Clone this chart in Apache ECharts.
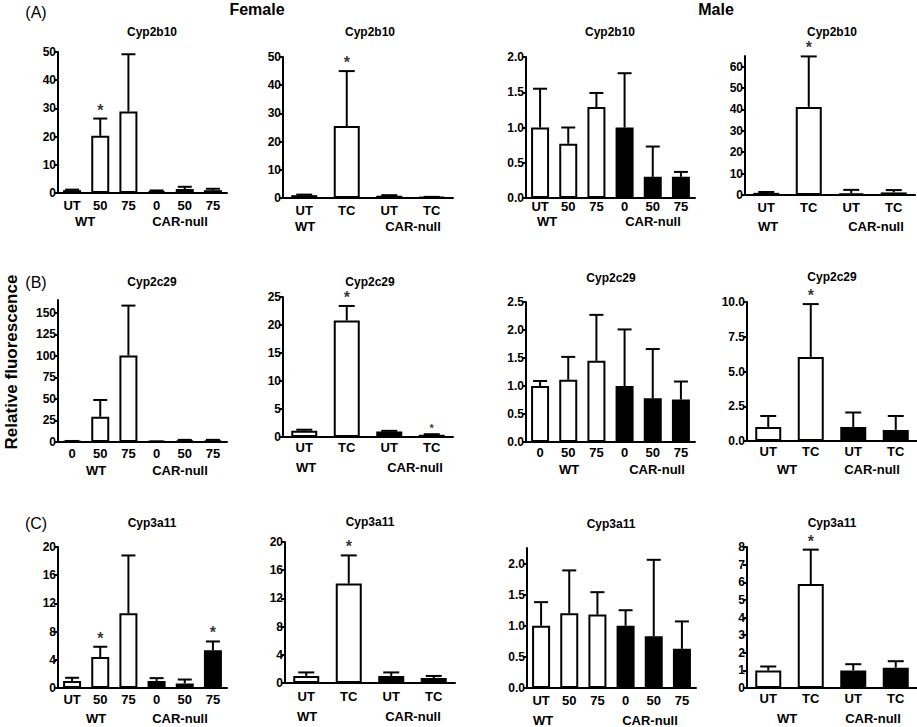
<!DOCTYPE html>
<html><head><meta charset="utf-8">
<script src="https://cdn.jsdelivr.net/npm/echarts@6/dist/echarts.min.js"></script>
<style>html,body{margin:0;padding:0;background:#fff}#c{width:917px;height:727px}</style>
</head><body><div id="c"></div>
<script>
// ---------- DATA ----------
const catsDoseUT = ['UT','50','75','0','50','75'];
const catsDose0  = ['0','50','75','0','50','75'];
const catsTC     = ['UT','TC','UT','TC'];
const genotypeLabels = ['WT','CAR-null'];
const sexLabels = ['Female','Male'];
const panelLetters = ['(A)','(B)','(C)'];
const geneNames = ['Cyp2b10','Cyp2c29','Cyp3a11'];
const yTitle = 'Relative fluorescence';

// Cyp2b10
const a1Mean = [1.0, 20.3, 28.9, 0.7, 1.4, 1.0];
const a1ErrTop = [1.2, 26.4, 49.2, 0.9, 2.2, 1.5];
const a1Star = [1];
const a1Ticks = [0,10,20,30,40,50];

const a2Mean = [1.0, 25.5, 0.8, 0.3];
const a2ErrTop = [1.2, 45.0, 1.0, 0.4];
const a2Star = [1];
const a2Ticks = [0,10,20,30,40,50];

const a3Mean = [1.0, 0.77, 1.29, 1.0, 0.3, 0.3];
const a3ErrTop = [1.55, 1.0, 1.49, 1.77, 0.73, 0.37];
const a3Star = [];
const a3Ticks = [0,0.5,1.0,1.5,2.0];

const a4Mean = [1.0, 41.2, 0.8, 1.2];
const a4ErrTop = [1.4, 64.8, 2.4, 2.3];
const a4Star = [1];
const a4Ticks = [0,10,20,30,40,50,60];

// Cyp2c29
const b1Mean = [1.0, 29.4, 100.5, 0.5, 1.5, 1.5];
const b1ErrTop = [1.2, 48.8, 158.5, 0.7, 2.5, 2.5];
const b1Star = [];
const b1Ticks = [0,25,50,75,100,125,150];

const b2Mean = [1.1, 20.8, 1.0, 0.4];
const b2ErrTop = [1.3, 23.4, 1.1, 0.5];
const b2Star = [1, 3];
const b2Ticks = [0,5,10,15,20,25];

const b3Mean = [1.0, 1.11, 1.45, 1.0, 0.78, 0.76];
const b3ErrTop = [1.09, 1.52, 2.27, 2.01, 1.66, 1.08];
const b3Star = [];
const b3Ticks = [0,0.5,1.0,1.5,2.0,2.5];

const b4Mean = [1.0, 6.05, 1.0, 0.8];
const b4ErrTop = [1.8, 9.85, 2.05, 1.8];
const b4Star = [1];
const b4Ticks = [0,2.5,5.0,7.5,10.0];

// Cyp3a11
const c1Mean = [1.0, 4.4, 10.6, 1.0, 0.65, 5.35];
const c1ErrTop = [1.45, 5.85, 18.8, 1.4, 1.2, 6.6];
const c1Star = [1, 5];
const c1Ticks = [0,4,8,12,16,20];

const c2Mean = [1.0, 14.1, 1.0, 0.7];
const c2ErrTop = [1.5, 18.1, 1.5, 1.0];
const c2Star = [1];
const c2Ticks = [0,4,8,12,16,20];

const c3Mean = [1.0, 1.2, 1.18, 1.0, 0.83, 0.63];
const c3ErrTop = [1.38, 1.89, 1.54, 1.25, 2.06, 1.07];
const c3Star = [];
const c3Ticks = [0,0.5,1.0,1.5,2.0];

const c4Mean = [1.0, 5.9, 1.0, 1.15];
const c4ErrTop = [1.22, 7.85, 1.35, 1.52];
const c4Star = [1];
const c4Ticks = [0,1,2,3,4,5,6,7,8];

// ---------- PANELS ----------
const panels = [
  {title:geneNames[0], cats:catsDoseUT, mean:a1Mean, err:a1ErrTop, stars:a1Star, ticks:a1Ticks, max:50, dec:0},
  {title:geneNames[0], cats:catsTC,     mean:a2Mean, err:a2ErrTop, stars:a2Star, ticks:a2Ticks, max:50, dec:0},
  {title:geneNames[0], cats:catsDoseUT, mean:a3Mean, err:a3ErrTop, stars:a3Star, ticks:a3Ticks, max:2, dec:1},
  {title:geneNames[0], cats:catsTC,     mean:a4Mean, err:a4ErrTop, stars:a4Star, ticks:a4Ticks, max:65, dec:0},
  {title:geneNames[1], cats:catsDose0,  mean:b1Mean, err:b1ErrTop, stars:b1Star, ticks:b1Ticks, max:165, dec:0},
  {title:geneNames[1], cats:catsTC,     mean:b2Mean, err:b2ErrTop, stars:b2Star, ticks:b2Ticks, max:25, dec:0},
  {title:geneNames[1], cats:catsDose0,  mean:b3Mean, err:b3ErrTop, stars:b3Star, ticks:b3Ticks, max:2.5, dec:1},
  {title:geneNames[1], cats:catsTC,     mean:b4Mean, err:b4ErrTop, stars:b4Star, ticks:b4Ticks, max:10, dec:1},
  {title:geneNames[2], cats:catsDoseUT, mean:c1Mean, err:c1ErrTop, stars:c1Star, ticks:c1Ticks, max:20, dec:0},
  {title:geneNames[2], cats:catsTC,     mean:c2Mean, err:c2ErrTop, stars:c2Star, ticks:c2Ticks, max:20, dec:0},
  {title:geneNames[2], cats:catsDoseUT, mean:c3Mean, err:c3ErrTop, stars:c3Star, ticks:c3Ticks, max:2.25, dec:1},
  {title:geneNames[2], cats:catsTC,     mean:c4Mean, err:c4ErrTop, stars:c4Star, ticks:c4Ticks, max:8, dec:0}
];

// ---------- LAYOUT (pixels) ----------
const layout = [
  {left:58,  top:52,  zero:193, title:[152,32],  wt:[85,221],  car:[180,221], lm:6},
  {left:283, top:57,  zero:198, title:[370,32],  wt:[305,226], car:[413,226], lm:6},
  {left:526, top:57,  zero:198, title:[610,32],  wt:[547,221], car:[653,221], lm:2},
  {left:745, top:56,  zero:195, title:[832,32],  wt:[768,226], car:[876,226], lm:6},
  {left:58,  top:300, zero:442, title:[152,282], wt:[96,470],  car:[180,470], lm:5},
  {left:283, top:297, zero:437, title:[370,282], wt:[306,467], car:[415,467], lm:4},
  {left:526, top:302, zero:442, title:[611,278], wt:[569,469], car:[657,469], lm:4},
  {left:747, top:302, zero:441, title:[832,277], wt:[787,469], car:[872,469], lm:4},
  {left:58,  top:547, zero:688, title:[152,523], wt:[96,718],  car:[180,718], lm:5},
  {left:285, top:542, zero:683, title:[370,522], wt:[307,716], car:[413,716], lm:7},
  {left:527, top:548, zero:688, title:[611,524], wt:[543,720], car:[650,720], lm:6},
  {left:747, top:547, zero:688, title:[832,523], wt:[787,718], car:[873,718], lm:4}
];
const smallStar = {5:[3]};

const FF = 'Liberation Sans, Arial, Helvetica, sans-serif';
const grids=[], xAxes=[], yAxes=[], series=[], graphics=[];

function makeErr(half){
  return function(params, api){
    const x = api.value(0), lo = api.value(1), hi = api.value(2);
    const p0 = api.coord([x, lo]), p1 = api.coord([x, hi]);
    return {type:'group', children:[
      {type:'line', shape:{x1:p0[0], y1:p0[1], x2:p1[0], y2:p1[1]}, style:{stroke:'#000', lineWidth:2}},
      {type:'line', shape:{x1:p1[0]-half, y1:p1[1], x2:p1[0]+half, y2:p1[1]}, style:{stroke:'#000', lineWidth:2}}
    ]};
  };
}

panels.forEach((p,i)=>{
  const L = layout[i];
  const n = p.cats.length;
  const w = n===6 ? 169 : 170;
  grids.push({left:L.left, top:L.top, width:w, height:L.zero-L.top});
  xAxes.push({type:'category', gridIndex:i, data:p.cats,
    axisLine:{lineStyle:{color:'#000', width:2}},
    axisTick:{alignWithLabel:true, length:4, lineStyle:{color:'#000', width:2}},
    axisLabel:{color:'#000', fontWeight:'bold', fontSize:13, margin:L.lm, fontFamily:FF, interval:0}});
  yAxes.push({type:'value', gridIndex:i, min:0, max:p.max, interval:p.ticks[1]-p.ticks[0],
    splitLine:{show:false},
    axisLine:{show:true, lineStyle:{color:'#000', width:2}},
    axisTick:{show:true, length:4, lineStyle:{color:'#000', width:2}, customValues:p.ticks},
    axisLabel:{customValues:p.ticks, formatter:v=>Number(v).toFixed(p.dec), color:'#000', fontWeight:'bold', fontSize:12, margin:2, fontFamily:FF}});
  series.push({type:'bar', xAxisIndex:i, yAxisIndex:i, barWidth: n===6 ? 18 : 26, silent:true,
    data:p.mean.map((v,k)=>({value:v, itemStyle:{color: k < n/2 ? '#ffffff' : '#000000'}})),
    itemStyle:{borderColor:'#000', borderWidth:2}, z:2});
  series.push({type:'custom', xAxisIndex:i, yAxisIndex:i, silent:true,
    data:p.mean.map((v,k)=>[k, v, p.err[k]]),
    encode:{x:0, y:[1,2]}, renderItem:makeErr(n===6 ? 7 : 8), z:3});
  if (p.stars.length){
    const small = smallStar[i] || [];
    series.push({type:'scatter', xAxisIndex:i, yAxisIndex:i, silent:true, symbolSize:1,
      itemStyle:{color:'rgba(0,0,0,0)'},
      data:p.stars.map(k=>({value:[k, p.err[k]], label:{fontSize: small.includes(k) ? 11 : 16}})),
      label:{show:true, position:'top', distance:0, formatter:'*', color:'#000', fontWeight:'bold', fontFamily:FF}, z:4});
  }
  graphics.push({type:'text', x:L.title[0], y:L.title[1], style:{text:p.title, align:'center', verticalAlign:'middle', fontSize:12, fontWeight:'bold', fill:'#000', fontFamily:FF}});
  graphics.push({type:'text', x:L.wt[0], y:L.wt[1], style:{text:genotypeLabels[0], align:'center', verticalAlign:'middle', fontSize:13, fontWeight:'bold', fill:'#000', fontFamily:FF}});
  graphics.push({type:'text', x:L.car[0], y:L.car[1], style:{text:genotypeLabels[1], align:'center', verticalAlign:'middle', fontSize:13, fontWeight:'bold', fill:'#000', fontFamily:FF}});
});

// panel letters, sex headers, y title
const letterPos = [[36,12],[36,282],[36,523]];
panelLetters.forEach((t,k)=>graphics.push({type:'text', x:letterPos[k][0], y:letterPos[k][1], style:{text:t, align:'center', verticalAlign:'middle', fontSize:16, fill:'#000', fontFamily:FF}}));
const sexPos = [[257,9],[716,9]];
sexLabels.forEach((t,k)=>graphics.push({type:'text', x:sexPos[k][0], y:sexPos[k][1], style:{text:t, align:'center', verticalAlign:'middle', fontSize:16, fontWeight:'bold', fill:'#000', fontFamily:FF}}));
graphics.push({type:'text', x:11, y:362, rotation:Math.PI/2, style:{text:yTitle, align:'center', verticalAlign:'middle', fontSize:17, fontWeight:'bold', fill:'#000', fontFamily:FF}});

const chart = echarts.init(document.getElementById('c'), null, {renderer:'svg'});
chart.setOption({animation:false, backgroundColor:'#fff', grid:grids, xAxis:xAxes, yAxis:yAxes, series:series, graphic:graphics});
</script></body></html>
